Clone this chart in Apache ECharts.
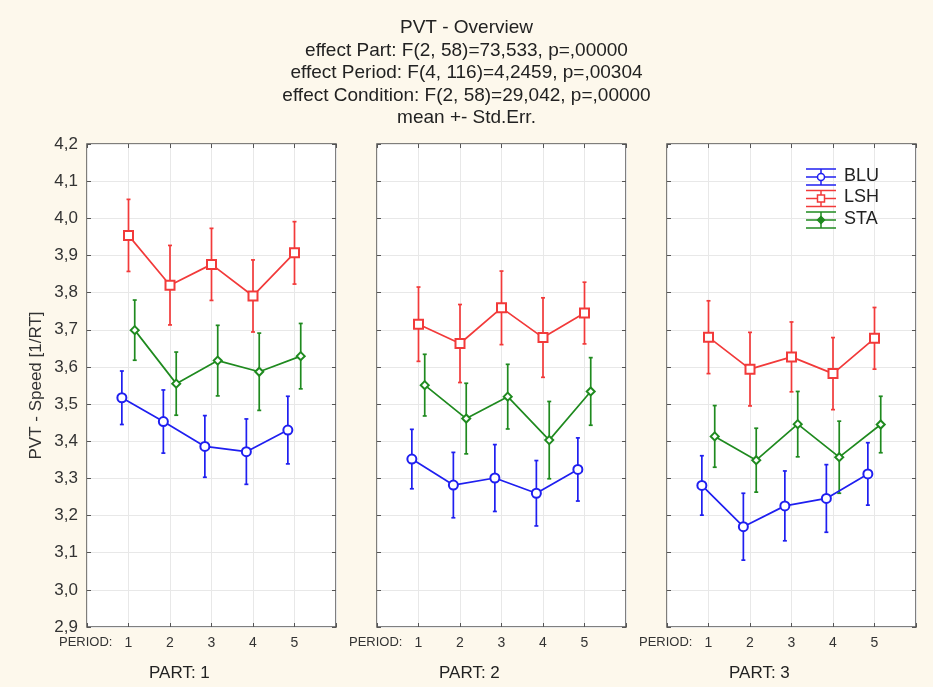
<!DOCTYPE html>
<html>
<head>
<meta charset="utf-8">
<script src="https://cdn.jsdelivr.net/npm/echarts@6/dist/echarts.min.js"></script>
<style>
  html, body { margin: 0; padding: 0; background: #fdf8ec; }
  #main { width: 933px; height: 687px; }
</style>
</head>
<body>
<div id="main"></div>
<script>
// periods on the x axis, one panel per part
var periods = [1, 2, 3, 4, 5]
var partNames = ['PART: 1', 'PART: 2', 'PART: 3']
var yTicks = [2.9, 3.0, 3.1, 3.2, 3.3, 3.4, 3.5, 3.6, 3.7, 3.8, 3.9, 4.0, 4.1, 4.2]

// means and std. errors, [part][period]
var bluMean = [[3.517, 3.453, 3.386, 3.372, 3.430], [3.352, 3.282, 3.301, 3.260, 3.324], [3.281, 3.170, 3.226, 3.246, 3.312]]
var bluErr = [[0.072, 0.085, 0.083, 0.088, 0.091], [0.080, 0.088, 0.090, 0.088, 0.085], [0.080, 0.090, 0.094, 0.091, 0.084]]
var lshMean = [[3.954, 3.820, 3.876, 3.791, 3.907], [3.715, 3.663, 3.759, 3.679, 3.745], [3.680, 3.594, 3.627, 3.582, 3.677]]
var lshErr = [[0.097, 0.107, 0.097, 0.097, 0.084], [0.100, 0.105, 0.099, 0.107, 0.083], [0.098, 0.099, 0.094, 0.097, 0.083]]
var staMean = [[3.699, 3.555, 3.617, 3.587, 3.629], [3.551, 3.461, 3.520, 3.403, 3.534], [3.413, 3.349, 3.446, 3.357, 3.445]]
var staErr = [[0.081, 0.085, 0.095, 0.104, 0.088], [0.083, 0.095, 0.087, 0.104, 0.091], [0.083, 0.086, 0.088, 0.097, 0.076]]

var groups = [
  { name: 'BLU', color: '#1f1ff0', symbol: 'emptyCircle', size: 9, shift: -0.16, mean: bluMean, err: bluErr },
  { name: 'LSH', color: '#f23a3a', symbol: 'emptyRect', size: 9, shift: 0, mean: lshMean, err: lshErr },
  { name: 'STA', color: '#1f8a1f', symbol: 'emptyDiamond', size: 8, shift: 0.15, mean: staMean, err: staErr }
]

var FONT = 'Liberation Sans, Arial, sans-serif'
var panelLeft = [87, 377, 667]
var panelW = 249
var panelTop = 144
var panelH = 483

var chartDom = document.getElementById('main')
var myChart = echarts.init(chartDom)
var option

var grids = []
var xAxes = []
var yAxes = []
var series = []
var graphics = []

var tick = { inside: true, length: 4, lineStyle: { color: '#555' } }

panelLeft.forEach(function (left, p) {
  grids.push({
    left: left, top: panelTop, width: panelW, height: panelH,
    show: true, backgroundColor: '#fff', borderColor: '#555', borderWidth: 1.5
  })
  // bottom axis with labels, top axis just for ticks
  xAxes.push({
    gridIndex: p, type: 'value', position: 'bottom', min: 0, max: 6, interval: 1,
    axisLine: { show: false, onZero: false },
    axisTick: tick,
    axisLabel: {
      color: '#333', fontSize: 14, fontFamily: FONT, margin: 9,
      formatter: function (v) { return periods.indexOf(v) >= 0 ? String(v) : '' }
    },
    splitLine: { lineStyle: { color: '#e8e8e8' } }
  })
  xAxes.push({
    gridIndex: p, type: 'value', position: 'top', min: 0, max: 6, interval: 1,
    axisLine: { show: false, onZero: false },
    axisTick: tick,
    axisLabel: { show: false }, splitLine: { show: false }
  })
  yAxes.push({
    gridIndex: p, type: 'value', position: 'left', min: yTicks[0], max: yTicks[yTicks.length - 1], interval: 0.1,
    axisLine: { show: false, onZero: false },
    axisTick: tick,
    axisLabel: {
      show: p === 0, color: '#333', fontSize: 17, fontFamily: FONT, margin: 9,
      formatter: function (v) { return v.toFixed(1).replace('.', ',') }
    },
    splitLine: { lineStyle: { color: '#e8e8e8' } },
    name: p === 0 ? 'PVT - Speed [1/RT]' : '',
    nameLocation: 'middle', nameGap: 42,
    nameTextStyle: { color: '#333', fontSize: 17, fontFamily: FONT }
  })
  yAxes.push({
    gridIndex: p, type: 'value', position: 'right', min: yTicks[0], max: yTicks[yTicks.length - 1], interval: 0.1,
    axisLine: { show: false, onZero: false },
    axisTick: tick,
    axisLabel: { show: false }, splitLine: { show: false }
  })

  groups.forEach(function (g) {
    var pts = periods.map(function (per, i) { return [per + g.shift, g.mean[p][i]] })
    var bars = periods.map(function (per, i) {
      return [per + g.shift, g.mean[p][i] - g.err[p][i], g.mean[p][i] + g.err[p][i]]
    })
    series.push({
      name: g.name, type: 'custom', xAxisIndex: p * 2, yAxisIndex: p * 2,
      data: bars, silent: true,
      renderItem: function (params, api) {
        var lo = api.coord([api.value(0), api.value(1)])
        var hi = api.coord([api.value(0), api.value(2)])
        var st = { stroke: g.color, lineWidth: 1.7 }
        return {
          type: 'group',
          children: [
            { type: 'line', shape: { x1: lo[0], y1: lo[1], x2: hi[0], y2: hi[1] }, style: st },
            { type: 'line', shape: { x1: lo[0] - 2, y1: lo[1], x2: lo[0] + 2, y2: lo[1] }, style: st },
            { type: 'line', shape: { x1: hi[0] - 2, y1: hi[1], x2: hi[0] + 2, y2: hi[1] }, style: st }
          ]
        }
      }
    })
    series.push({
      name: g.name, type: 'line', xAxisIndex: p * 2, yAxisIndex: p * 2,
      data: pts, symbol: g.symbol, symbolSize: g.size,
      lineStyle: { color: g.color, width: 1.7 },
      itemStyle: { color: g.color, borderWidth: 1.6 },
      z: 3
    })
  })

  graphics.push({
    type: 'text', x: left - 28, y: panelTop + panelH + 9, z: 50,
    style: { text: 'PERIOD:', fill: '#333', font: '13px ' + FONT }
  })
  graphics.push({
    type: 'text', x: left + 62, y: 665, z: 50,
    style: { text: partNames[p], fill: '#222', font: '17px ' + FONT }
  })
})

// legend drawn by hand, in the top right of the last panel
groups.forEach(function (g, i) {
  var cy = 177 + i * 21.5
  var cx = 821
  var st = { stroke: g.color, lineWidth: 1.5 }
  graphics.push({ type: 'line', z: 50, shape: { x1: cx - 15, y1: cy - 8, x2: cx + 15, y2: cy - 8 }, style: st })
  graphics.push({ type: 'line', z: 50, shape: { x1: cx - 15, y1: cy, x2: cx + 15, y2: cy }, style: st })
  graphics.push({ type: 'line', z: 50, shape: { x1: cx - 15, y1: cy + 8, x2: cx + 15, y2: cy + 8 }, style: st })
  graphics.push({ type: 'line', z: 50, shape: { x1: cx, y1: cy - 8, x2: cx, y2: cy + 8 }, style: st })
  if (i === 0) {
    graphics.push({ type: 'circle', z: 51, shape: { cx: cx, cy: cy, r: 3.5 }, style: { fill: '#fff', stroke: g.color, lineWidth: 1.5 } })
  } else if (i === 1) {
    graphics.push({ type: 'rect', z: 51, shape: { x: cx - 3.5, y: cy - 3.5, width: 7, height: 7 }, style: { fill: '#fff', stroke: g.color, lineWidth: 1.5 } })
  } else {
    graphics.push({ type: 'polygon', z: 51, shape: { points: [[cx, cy - 3.5], [cx + 3.5, cy], [cx, cy + 3.5], [cx - 3.5, cy]] }, style: { fill: g.color, stroke: g.color, lineWidth: 1.5 } })
  }
  graphics.push({
    type: 'text', x: 844, y: cy - 10, z: 52,
    style: { text: g.name, fill: '#222', font: '18px ' + FONT }
  })
})

option = {
  backgroundColor: '#fdf8ec',
  animation: false,
  title: {
    text: 'PVT - Overview\neffect Part: F(2, 58)=73,533, p=,00000\neffect Period: F(4, 116)=4,2459, p=,00304\neffect Condition: F(2, 58)=29,042, p=,00000\nmean +- Std.Err.',
    left: 'center', top: 12,
    textStyle: { color: '#222', fontSize: 19, fontWeight: 'normal', fontFamily: FONT, lineHeight: 22.5 }
  },
  grid: grids,
  xAxis: xAxes,
  yAxis: yAxes,
  series: series,
  graphic: graphics
}

option && myChart.setOption(option)
</script>
</body>
</html>
